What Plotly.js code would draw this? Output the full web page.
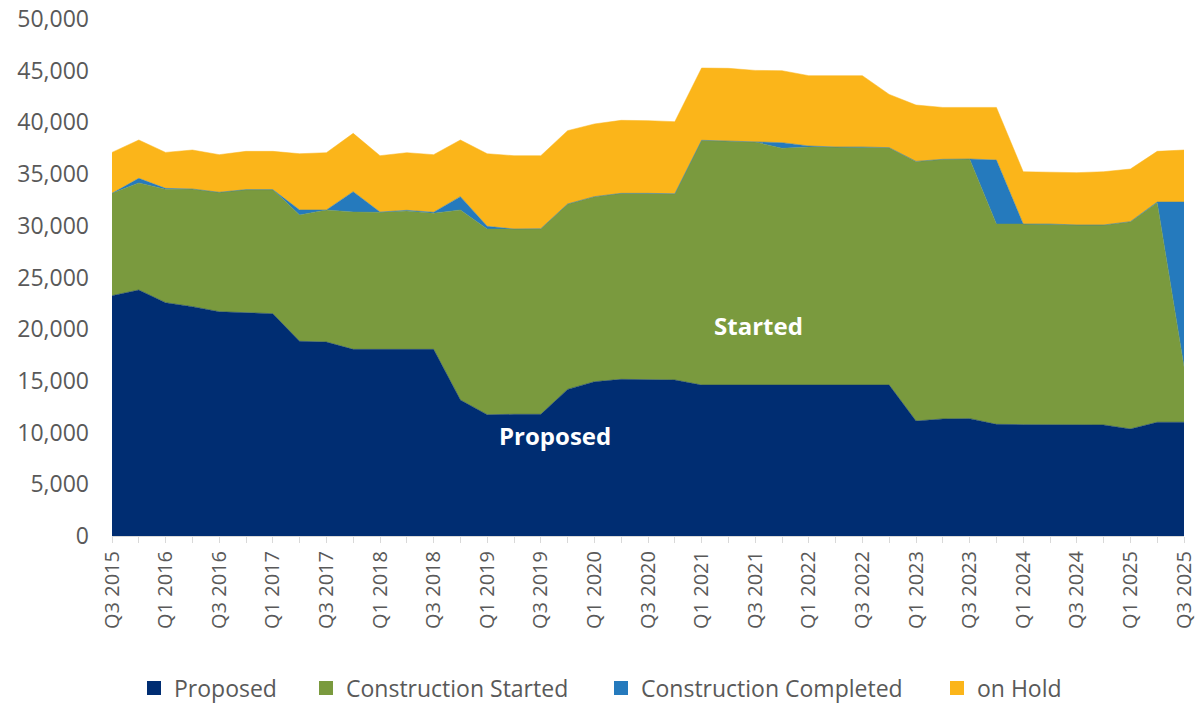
<!DOCTYPE html>
<html>
<head>
<meta charset="utf-8">
<script src="https://cdn.plot.ly/plotly-3.0.1.min.js"></script>
<style>
html,body{margin:0;padding:0;background:#fff;}
#chart{width:1204px;height:705px;}
</style>
</head>
<body>
<div id="chart"></div>
<script>
const quarters = ["Q3 2015","Q4 2015","Q1 2016","Q2 2016","Q3 2016","Q4 2016","Q1 2017","Q2 2017","Q3 2017","Q4 2017",
  "Q1 2018","Q2 2018","Q3 2018","Q4 2018","Q1 2019","Q2 2019","Q3 2019","Q4 2019","Q1 2020","Q2 2020",
  "Q3 2020","Q4 2020","Q1 2021","Q2 2021","Q3 2021","Q4 2021","Q1 2022","Q2 2022","Q3 2022","Q4 2022",
  "Q1 2023","Q2 2023","Q3 2023","Q4 2023","Q1 2024","Q2 2024","Q3 2024","Q4 2024","Q1 2025","Q2 2025","Q3 2025"];

const proposed = [23240,23790,22560,22180,21690,21600,21500,18830,18760,18050,18050,18120,18050,13150,11730,11770,11770,14180,14920,15150,
  15120,15090,14600,14600,14600,14600,14600,14600,14600,14600,11120,11320,11350,10800,10770,10770,10770,10740,10350,11000,11000];

const started = [9900,10350,10970,11380,11550,11900,12000,12210,12770,13280,13250,13320,13160,18380,17950,17920,17950,17930,17900,17990,
  18020,17990,23670,23600,23500,22890,23020,23020,23020,22960,25110,25110,25110,19370,19400,19370,19310,19340,20050,21240,5370];

const completed = [0,450,90,0,0,0,0,490,0,1970,30,60,100,1290,270,0,0,0,0,0,
  0,20,0,0,40,550,100,0,0,0,0,0,0,6190,0,30,0,0,0,60,15930];

const onHold = [3960,3710,3480,3770,3640,3700,3700,5440,5540,5640,5450,5570,5570,5480,7020,7090,7060,7090,7030,7060,
  7030,6970,6990,7030,6890,6960,6800,6900,6900,5150,5450,5020,4990,5090,5060,5030,5060,5150,5090,4900,5030];

const seriesNames = ["Proposed","Construction Started","Construction Completed","on Hold"];
const seriesColors = ["#002D72","#7A9A3E","#257ABD","#FBB51A"];
const seriesValues = [proposed, started, completed, onHold];

const tickText = quarters.map((q, i) => (i % 2 === 0 ? q : ""));

const areaTraces = seriesValues.map((vals, k) => ({
  type: "scatter",
  mode: "lines",
  x: quarters,
  y: vals,
  name: seriesNames[k],
  stackgroup: "one",
  line: {color: seriesColors[k], width: 0.5},
  fillcolor: seriesColors[k],
  showlegend: false,
  hoverinfo: "skip"
}));

const legendIds = ["legend","legend2","legend3","legend4"];
const legendTraces = seriesNames.map((nm, k) => ({
  type: "scatter",
  mode: "markers",
  x: [null],
  y: [null],
  name: nm,
  marker: {symbol: "square", size: 14, color: seriesColors[k]},
  showlegend: true,
  legend: legendIds[k],
  hoverinfo: "skip"
}));

// legend text start pixels in the reference: 174, 346, 641, 977
const legendLeftPx = [134, 306, 601, 937];
const legendFont = {size: 23, color: "#595959", family: "Open Sans, sans-serif"};
function legendBox(px) {
  return {
    orientation: "h",
    x: (px - 112) / 1072, xanchor: "left",
    y: -0.294, yanchor: "middle",
    font: legendFont,
    bgcolor: "rgba(0,0,0,0)",
    borderwidth: 0,
    itemclick: false, itemdoubleclick: false
  };
}

const layout = {
  width: 1204,
  height: 705,
  margin: {l: 112, r: 20, t: 19, b: 169, autoexpand: false},
  paper_bgcolor: "#fff",
  plot_bgcolor: "#fff",
  font: {family: "Open Sans, sans-serif", color: "#595959"},
  showlegend: true,
  legend: legendBox(legendLeftPx[0]),
  legend2: legendBox(legendLeftPx[1]),
  legend3: legendBox(legendLeftPx[2]),
  legend4: legendBox(legendLeftPx[3]),
  xaxis: {
    type: "category",
    range: [0, quarters.length - 1],
    tickmode: "array",
    tickvals: quarters,
    ticktext: tickText,
    tickangle: -90,
    tickfont: {size: 20, color: "#595959"},
    ticks: "outside",
    ticklen: 6,
    tickcolor: "#d9d9d9",
    showline: true,
    linecolor: "#d9d9d9",
    linewidth: 1,
    showgrid: false,
    zeroline: false,
    automargin: false,
    fixedrange: true
  },
  yaxis: {
    range: [0, 50000],
    dtick: 5000,
    tickformat: ",d",
    tickfont: {size: 23, color: "#595959"},
    showgrid: false,
    zeroline: false,
    showline: false,
    ticks: "",
    ticklabelstandoff: 22,
    automargin: false,
    fixedrange: true
  },
  annotations: [
    {text: "<b>Proposed</b>", xref: "paper", yref: "y", x: 0.413, y: 9700, showarrow: false,
     font: {size: 24, color: "#ffffff", family: "Open Sans, sans-serif"}},
    {text: "<b>Started</b>", xref: "paper", yref: "y", x: 0.603, y: 20400, showarrow: false,
     font: {size: 24, color: "#ffffff", family: "Open Sans, sans-serif"}}
  ]
};

Plotly.newPlot("chart", areaTraces.concat(legendTraces), layout, {displayModeBar: false, staticPlot: true});
</script>
</body>
</html>
